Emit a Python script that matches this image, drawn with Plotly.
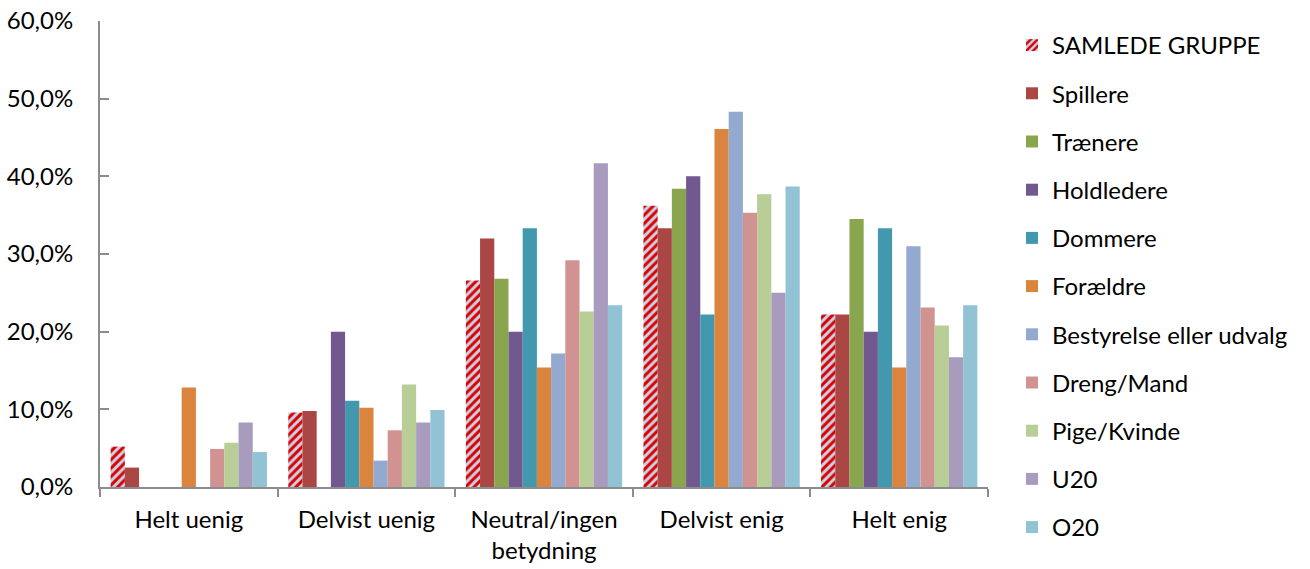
import plotly.graph_objects as go

categories = ["Helt uenig", "Delvist uenig", "Neutral/ingen<br>betydning", "Delvist enig", "Helt enig"]

samlede_gruppe = [5.2, 9.6, 26.6, 36.2, 22.2]
spillere = [2.5, 9.8, 32.0, 33.3, 22.2]
traenere = [0.0, 0.0, 26.8, 38.4, 34.5]
holdledere = [0.0, 20.0, 20.0, 40.0, 20.0]
dommere = [0.0, 11.1, 33.3, 22.2, 33.3]
foraeldre = [12.8, 10.2, 15.4, 46.1, 15.4]
bestyrelse = [0.0, 3.4, 17.2, 48.3, 31.0]
dreng_mand = [4.9, 7.3, 29.2, 35.3, 23.1]
pige_kvinde = [5.7, 13.2, 22.6, 37.7, 20.8]
u20 = [8.3, 8.3, 41.7, 25.0, 16.7]
o20 = [4.5, 9.9, 23.4, 38.7, 23.4]

series = [
    ("SAMLEDE GRUPPE", samlede_gruppe, "#dd0000"),
    ("Spillere", spillere, "#aa4643"),
    ("Trænere", traenere, "#89a54e"),
    ("Holdledere", holdledere, "#71588f"),
    ("Dommere", dommere, "#4198af"),
    ("Forældre", foraeldre, "#db843d"),
    ("Bestyrelse eller udvalg", bestyrelse, "#93a9cf"),
    ("Dreng/Mand", dreng_mand, "#d19392"),
    ("Pige/Kvinde", pige_kvinde, "#b9cd96"),
    ("U20", u20, "#a99bbd"),
    ("O20", o20, "#92c3d4"),
]

fig = go.Figure()

for i, (name, vals, color) in enumerate(series):
    marker = dict(color=color, line=dict(width=0))
    if i == 0:
        # rødt/lyseblåt stribet mønster for samlet gruppe
        marker = dict(
            color="#c5d3e6",
            line=dict(width=0),
            pattern=dict(shape="/", fgcolor="#dd0000", bgcolor="#c5d3e6",
                         size=6, solidity=0.5, fillmode="replace"),
        )
    fig.add_trace(go.Bar(
        x=categories,
        y=[v / 100 for v in vals],
        name=name,
        marker=marker,
        legendgroup=name,
    ))

fig.update_layout(
    barmode="group",
    bargap=0.12,
    bargroupgap=0,
    width=1310,
    height=569,
    separators=",.",
    plot_bgcolor="white",
    paper_bgcolor="white",
    font=dict(family="Lato, Carlito, sans-serif", size=24, color="#000000"),
    margin=dict(l=100, r=322, t=21, b=82, autoexpand=False),
    showlegend=True,
    legend=dict(
        x=1.027, y=0.9596, xanchor="left", yanchor="top",
        yref="container",
        traceorder="grouped", tracegroupgap=14,
        font=dict(size=24),
        bgcolor="rgba(0,0,0,0)",
        maxheight=1.0,
    ),
)

fig.update_yaxes(
    range=[0, 0.6],
    dtick=0.1,
    tickformat=".1%",
    showgrid=False,
    showline=True,
    linecolor="#8c8c8c",
    linewidth=2,
    ticks="inside",
    ticklen=9,
    tickcolor="#8c8c8c",
    tickwidth=2,
    ticklabelstandoff=20,
    ticklabeloverflow="allow",
    zeroline=False,
    automargin=False,
)
fig.update_xaxes(
    showgrid=False,
    showline=True,
    linecolor="#8c8c8c",
    linewidth=2,
    ticks="outside",
    tickson="boundaries",
    ticklen=8,
    tickcolor="#8c8c8c",
    tickwidth=2,
    ticklabelstandoff=10,
    ticklabeloverflow="allow",
    automargin=False,
)

# fjern sidens body-margin, så figuren fylder hele vinduet
fig.write_html(
    "out.html",
    config={"displayModeBar": False},
    post_script="document.body.style.margin='0';document.body.style.overflow='hidden';",
)
